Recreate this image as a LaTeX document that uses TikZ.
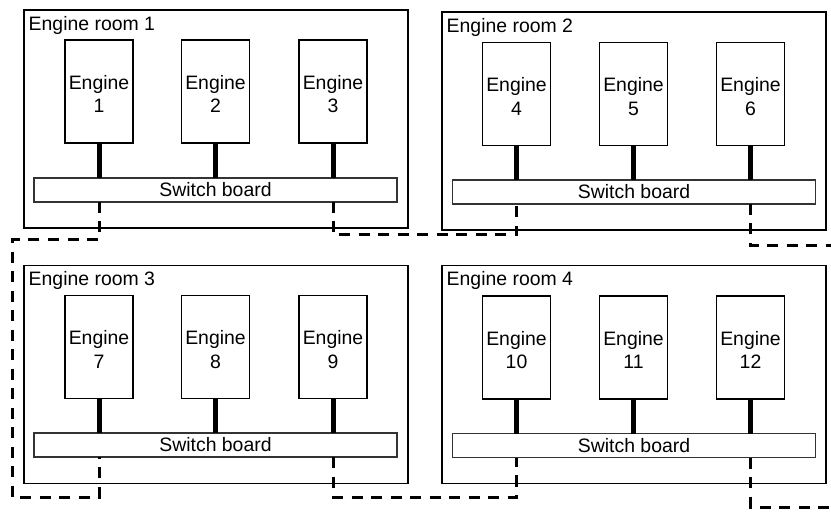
\documentclass[tikz,border=0pt]{standalone}
\usepackage{fontspec}
\setmainfont{Liberation Sans}
\usetikzlibrary{calc}
\begin{document}
\begin{tikzpicture}[x=1bp,y=-1bp,
  font=\fontsize{19.5}{23.5}\selectfont,
  room/.style={draw, line width=1.5bp, minimum width=384bp, minimum height=218bp, inner sep=0pt, outer sep=0pt},
  roomlabel/.style={anchor=base west, inner sep=0pt},
  engine/.style={draw, line width=1.5bp, minimum width=68bp, minimum height=103bp, align=center, inner sep=0pt, outer sep=0pt,
    label={[align=center, inner sep=0pt, yshift=-2.5bp]center:#1}},
  sboard/.style={draw=black!80, line width=1.4bp, minimum width=363bp, minimum height=24bp, inner sep=0pt, outer sep=0pt},
  bus/.style={line width=5bp},
  link/.style={line width=3bp, dash pattern=on 11bp off 8.5bp}
]
\useasboundingbox (0,0) rectangle (831,513);

% rooms
\node[room] (r1) at (216,119) {};
\node[room] (r2) at (634,121) {};
\node[room] (r3) at (216,374.5) {};
\node[room] (r4) at (634,374.5) {};
\node[roomlabel] (t1) at (28.5,30.5) {Engine room 1};
\node[roomlabel] (t2) at (446.5,32.5) {Engine room 2};
\node[roomlabel] (t3) at (28.5,285.5) {Engine room 3};
\node[roomlabel] (t4) at (446.5,285.5) {Engine room 4};

% engines
\node[engine={Engine\\1}] (e1) at (99,91.5) {};
\node[engine={Engine\\2}] (e2) at (215.5,91.5) {};
\node[engine={Engine\\3}] (e3) at (333,91.5) {};
\node[engine={Engine\\4}] (e4) at (516.5,94) {};
\node[engine={Engine\\5}] (e5) at (633.5,94) {};
\node[engine={Engine\\6}] (e6) at (750.5,94) {};
\node[engine={Engine\\7}] (e7) at (99,347) {};
\node[engine={Engine\\8}] (e8) at (215.5,347) {};
\node[engine={Engine\\9}] (e9) at (333,347) {};
\node[engine={Engine\\10}] (e10) at (516.5,347.5) {};
\node[engine={Engine\\11}] (e11) at (633.5,347.5) {};
\node[engine={Engine\\12}] (e12) at (750.5,347.5) {};

% switch boards
\node[sboard] (sb1) at (215.5,190) {Switch board};
\node[sboard] (sb2) at (634,192) {Switch board};
\node[sboard] (sb3) at (215.5,445) {Switch board};
\node[sboard] (sb4) at (634,445.5) {Switch board};

% engine-to-board buses
\foreach \e/\s in {e1/sb1,e2/sb1,e3/sb1,e4/sb2,e5/sb2,e6/sb2,e7/sb3,e8/sb3,e9/sb3,e10/sb4,e11/sb4,e12/sb4}
  \draw[bus] (\e.south) -- (\e.south |- \s.north);

% dashed links
\coordinate (la) at (12,240);
\coordinate (lb) at (12,497);
\coordinate (ma) at (0,235);
\coordinate (mb) at (0,497);
\coordinate (ra) at (835,246);
\coordinate (rb) at (835,507);
\draw[link] (sb1.south -| e1) -- (e1 |- la) -- (la) -- (lb) -- (e7 |- lb) -- (sb3.south -| e7);
\draw[link] (sb1.south -| e3) -- (e3 |- ma) -- (e4 |- ma) -- (sb2.south -| e4);
\draw[link] (sb2.south -| e6) -- (e6 |- ra) -- (ra);
\draw[link] (sb3.south -| e9) -- (e9 |- mb) -- (e10 |- mb) -- (sb4.south -| e10);
\draw[link] (sb4.south -| e12) -- (e12 |- rb) -- (rb);
\end{tikzpicture}
\end{document}
